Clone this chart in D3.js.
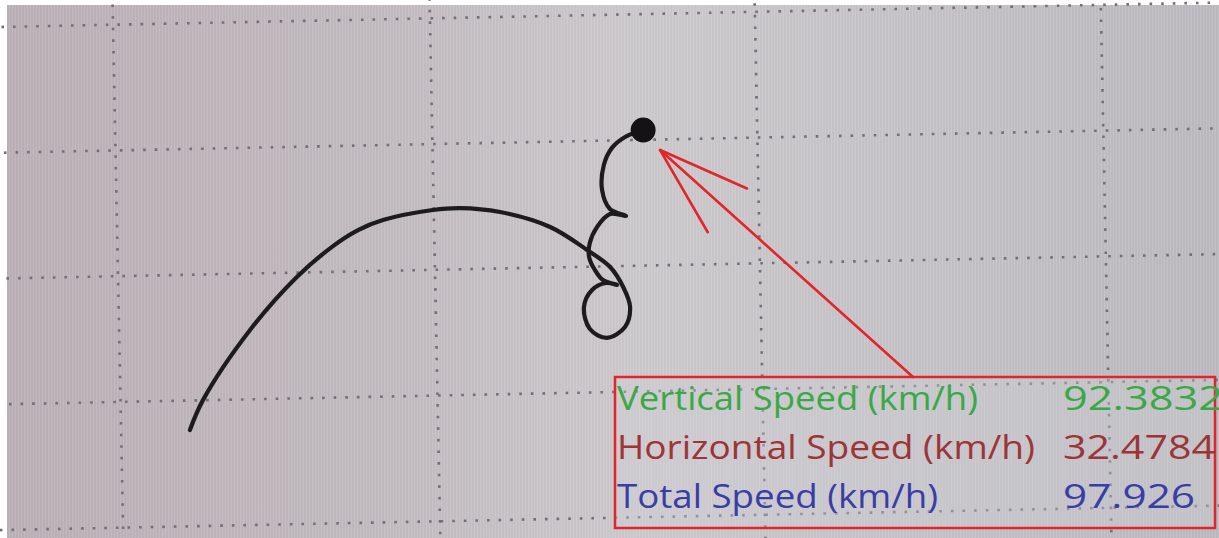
<!DOCTYPE html>
<meta charset="utf-8">
<style>
body { margin: 0; background: #fff; overflow: hidden; }
svg { display: block; }
.grid line { stroke: #746e78; stroke-width: 2.6; stroke-dasharray: 2.6 9; }
.trace { fill: none; stroke: #1d1b1e; stroke-width: 4.2; stroke-linecap: round; stroke-linejoin: round; }
.readout text { font-family: "Open Sans", "Noto Sans", sans-serif; font-size: 33px; }
</style>
<body>
<script src="https://d3js.org/d3.v7.min.js"></script>
<script>
// grid divisions (plot units)
var xTicks = [0, 10, 20, 30];
var yTicks = [0, 10, 20, 30, 40];

// trajectory, in grid units
var trackX = [2.17, 2.60, 4.13, 5.64, 6.80, 7.60, 8.39, 9.97, 10.81, 12.04, 13.57, 14.69, 15.39,
              15.78, 15.98, 15.81, 15.25, 14.73, 14.56, 14.82, 15.25, 15.59, 15.16, 14.92,
              14.75, 14.78, 15.01, 15.42, 15.91, 15.42, 15.19, 15.26, 15.52, 15.93, 16.49];
var trackY = [7.65, 10.01, 15.51, 19.65, 22.05, 23.28, 24.04, 24.76, 24.87, 24.49, 23.22, 21.34, 19.94,
              18.33, 16.73, 15.15, 14.31, 15.05, 16.80, 18.15, 18.68, 18.51, 18.92, 19.73,
              20.77, 21.88, 23.14, 24.16, 23.98, 24.56, 26.08, 28.06, 29.41, 30.26, 30.78];

// readout panel
var labels = ["Vertical Speed (km/h)", "Horizontal Speed (km/h)", "Total Speed (km/h)"];
var values = [92.3832, 32.4784, 97.926];
var colors = ["#3aa846", "#9c3438", "#383ea6"];
var labelWidths = [361, 418, 321];
var valueWidths = [160, 152, 132];

var W = 1219, H = 538;
var tilt = -1.15, cx = 600, cy = 270;

var svg = d3.select("body").append("svg")
    .attr("width", W)
    .attr("height", H);

var defs = svg.append("defs");
var bg = defs.append("linearGradient").attr("id", "bg");
[["0%", "#b8aeb4"], ["30%", "#bfb8bd"], ["52%", "#cac7ca"], ["72%", "#c3c1c5"], ["100%", "#b9b7bd"]]
  .forEach(function(s) { bg.append("stop").attr("offset", s[0]).attr("stop-color", s[1]); });
var stripes = defs.append("pattern").attr("id", "stripes")
    .attr("width", 3).attr("height", 6).attr("patternUnits", "userSpaceOnUse");
stripes.append("rect").attr("width", 1).attr("height", 6).attr("fill", "#fff").attr("opacity", 0.12);

svg.append("rect").attr("x", 7).attr("y", 5).attr("width", W).attr("height", H)
    .attr("fill", "url(#bg)");
svg.append("rect").attr("x", 7).attr("y", 5).attr("width", W).attr("height", H)
    .attr("fill", "url(#stripes)");

// scales (screen was photographed slightly off-axis, hence the uneven x range)
var x = d3.scaleLinear().domain(xTicks).range([118, 435, 760, 1106]);
var y = d3.scaleLinear().domain([0, 40]).range([518, 15]);

var plot = svg.append("g")
    .attr("transform", "rotate(" + tilt + "," + cx + "," + cy + ")");

var grid = plot.append("g").attr("class", "grid");
grid.selectAll(".v").data(xTicks).enter().append("line")
    .attr("x1", function(d) { return x(d); }).attr("x2", function(d) { return x(d); })
    .attr("y1", -40).attr("y2", H + 40);
grid.selectAll(".h").data(yTicks).enter().append("line")
    .attr("y1", function(d) { return y(d); }).attr("y2", function(d) { return y(d); })
    .attr("x1", -40).attr("x2", W + 40);

var track = trackX.map(function(v, i) { return [v, trackY[i]]; });
var line = d3.line()
    .x(function(d) { return x(d[0]); })
    .y(function(d) { return y(d[1]); })
    .curve(d3.curveCatmullRom.alpha(0.5));

plot.append("path").datum(track).attr("class", "trace").attr("d", line);

var last = track[track.length - 1];
plot.append("circle")
    .attr("cx", x(last[0])).attr("cy", y(last[1])).attr("r", 12.5)
    .attr("fill", "#141214");

// screen position of the marker, to hang the callout arrow from it
var a = tilt * Math.PI / 180;
function toScreen(px, py) {
  var dx = px - cx, dy = py - cy;
  return [cx + dx * Math.cos(a) - dy * Math.sin(a), cy + dx * Math.sin(a) + dy * Math.cos(a)];
}
var dot = toScreen(x(last[0]), y(last[1]));

// readout box
var box = {x: 615, y: 377, w: 600, h: 151};
var panel = svg.append("g").attr("class", "readout");
panel.append("rect")
    .attr("x", box.x).attr("y", box.y).attr("width", box.w).attr("height", box.h)
    .attr("fill", "#d2d0d6").attr("fill-opacity", 0.35)
    .attr("stroke", "#e2252b").attr("stroke-width", 2.5);

var rows = panel.selectAll(".row").data(labels).enter().append("g")
    .attr("transform", function(d, i) { return "translate(0," + (410 + i * 49) + ")"; });
rows.append("text")
    .attr("x", 617)
    .attr("fill", function(d, i) { return colors[i]; })
    .attr("textLength", function(d, i) { return labelWidths[i]; })
    .attr("lengthAdjust", "spacingAndGlyphs")
    .text(function(d) { return d; });
rows.append("text")
    .attr("x", 1063)
    .attr("fill", function(d, i) { return colors[i]; })
    .attr("textLength", function(d, i) { return valueWidths[i]; })
    .attr("lengthAdjust", "spacingAndGlyphs")
    .text(function(d, i) { return String(values[i]); });

// callout arrow
var tip = [dot[0] + 17, dot[1] + 20];
var tail = [box.x + box.w / 2 - 2, box.y];
var ang = Math.atan2(tail[1] - tip[1], tail[0] - tip[0]);
var arm = 95, spread = 18 * Math.PI / 180;
var arrow = svg.append("g").attr("stroke", "#e2252b").attr("stroke-width", 2.6)
    .attr("stroke-linecap", "round");
arrow.append("line").attr("x1", tip[0]).attr("y1", tip[1]).attr("x2", tail[0]).attr("y2", tail[1]);
[-spread, spread].forEach(function(s) {
  arrow.append("line")
      .attr("x1", tip[0]).attr("y1", tip[1])
      .attr("x2", tip[0] + arm * Math.cos(ang + s))
      .attr("y2", tip[1] + arm * Math.sin(ang + s));
});
</script>
</body>
